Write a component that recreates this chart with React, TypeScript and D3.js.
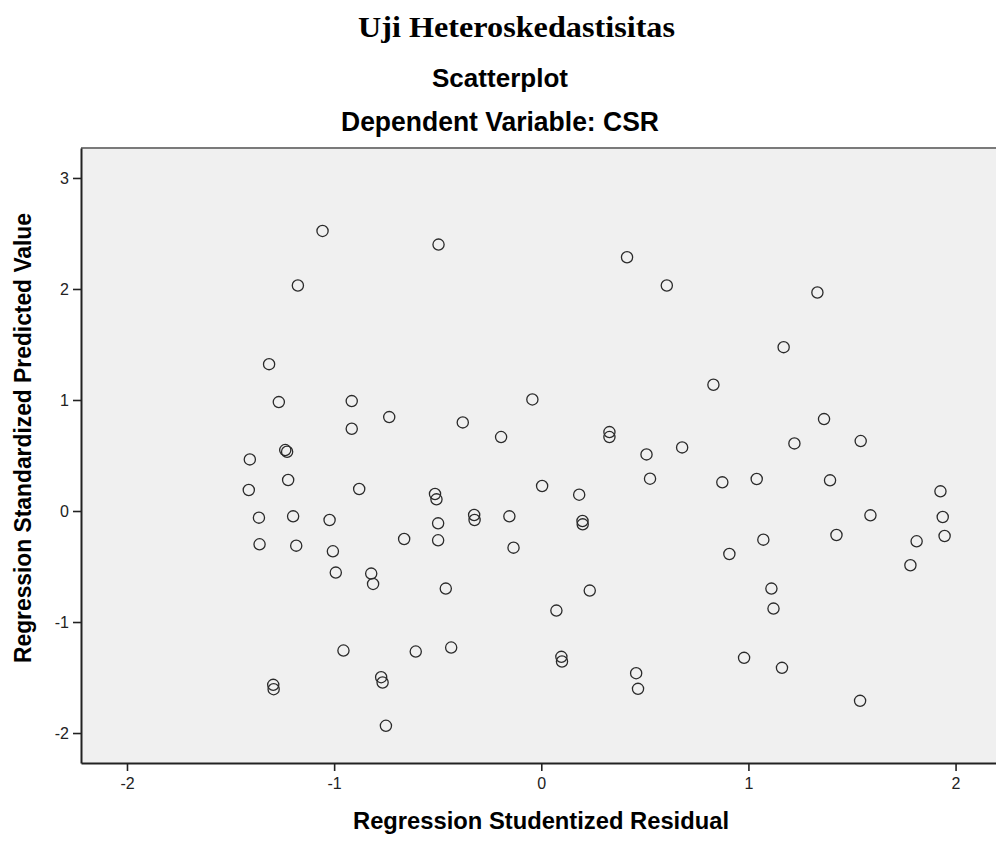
import * as d3 from 'd3'
import React, { useEffect, useRef } from 'react'

// Regression Studentized Residual (x) and Regression Standardized Predicted Value (y)
const residual = [
  -1.056, -1.175, -1.314, -1.267, -0.915, -0.915, -0.734, -1.236, -1.227, -1.407,
  -1.222, -1.412, -0.879, -1.363, -1.198, -1.022, -1.36, -1.183, -1.006, -0.992,
  -0.662, -0.821, -0.812, -0.955, -1.294, -1.292, -0.773, -0.766, -0.75, -0.496,
  0.414, 0.606, 0.831, -0.379, -0.194, -0.043, 0.329, 0.329, 0.508, 0.68,
  0.525, 0.874, 0.004, 0.183, -0.513, -0.506, -0.498, -0.324, -0.322, -0.154,
  0.199, 0.2, -0.498, -0.134, -0.461, 0.234, 0.073, -0.606, -0.435, 0.097,
  0.1, 0.458, 0.467, 1.333, 1.17, 1.365, 1.222, 1.542, 1.04, 1.394,
  1.927, 1.589, 1.938, 1.947, 1.072, 1.425, 0.908, 1.812, 1.782, 1.111,
  1.121, 0.979, 1.162, 1.539
]
const predicted = [
  2.523, 2.031, 1.323, 0.981, 0.99, 0.741, 0.846, 0.549, 0.534, 0.465,
  0.279, 0.189, 0.198, -0.06, -0.048, -0.081, -0.3, -0.312, -0.363, -0.555,
  -0.252, -0.564, -0.657, -1.257, -1.566, -1.605, -1.497, -1.545, -1.935, 2.4,
  2.286, 2.031, 1.137, 0.798, 0.666, 1.005, 0.711, 0.666, 0.51, 0.573,
  0.291, 0.258, 0.225, 0.147, 0.153, 0.105, -0.111, -0.036, -0.081, -0.048,
  -0.09, -0.12, -0.264, -0.33, -0.699, -0.717, -0.897, -1.266, -1.23, -1.314,
  -1.356, -1.461, -1.602, 1.968, 1.476, 0.828, 0.609, 0.63, 0.288, 0.276,
  0.177, -0.039, -0.054, -0.225, -0.258, -0.216, -0.387, -0.273, -0.489, -0.699,
  -0.879, -1.323, -1.413, -1.71
]
const xTicks = [-2, -1, 0, 1, 2]
const yTicks = [-2, -1, 0, 1, 2, 3]

export default function App() {
  const ref = useRef(null)

  useEffect(() => {
    const svg = d3.select(ref.current)
    svg.selectAll('*').remove()

    const left = 81
    const top = 148
    const bottom = 763
    const right = 997

    const x = d3.scaleLinear().domain([-2.222, 2.2]).range([left, right])
    const y = d3.scaleLinear().domain([-2.27, 3.27]).range([bottom, top])

    //plot background
    svg
      .append('rect')
      .attr('x', left)
      .attr('y', top)
      .attr('width', right - left)
      .attr('height', bottom - top)
      .attr('fill', '#f0f0f0')

    //top border
    svg
      .append('line')
      .attr('x1', left)
      .attr('x2', right)
      .attr('y1', top)
      .attr('y2', top)
      .attr('stroke', '#7a7a7a')
      .attr('stroke-width', 2)

    //axes
    const fmt = (d) => String(d)
    const xAxis = svg
      .append('g')
      .attr('transform', `translate(0,${bottom})`)
      .call(
        d3.axisBottom(x).tickValues(xTicks).tickFormat(fmt).tickSize(8).tickPadding(7).tickSizeOuter(0)
      )
    const yAxis = svg
      .append('g')
      .attr('transform', `translate(${left},0)`)
      .call(
        d3.axisLeft(y).tickValues(yTicks).tickFormat(fmt).tickSize(8).tickPadding(4).tickSizeOuter(0)
      )

    for (const g of [xAxis, yAxis]) {
      g.select('.domain').attr('stroke', '#222').attr('stroke-width', 2)
      g.selectAll('.tick line').attr('stroke', '#222').attr('stroke-width', 1.6)
      g.selectAll('.tick text')
        .attr('fill', '#222')
        .attr('font-family', 'Liberation Sans, Arial, sans-serif')
        .attr('font-size', 16)
    }

    //points
    svg
      .append('g')
      .selectAll('circle')
      .data(residual.map((r, i) => [r, predicted[i]]))
      .join('circle')
      .attr('cx', (d) => x(d[0]))
      .attr('cy', (d) => y(d[1]))
      .attr('r', 5.6)
      .attr('fill', 'none')
      .attr('stroke', '#2a2a2a')
      .attr('stroke-width', 1.3)

    //titles
    svg
      .append('text')
      .attr('x', 516.5)
      .attr('y', 37)
      .attr('text-anchor', 'middle')
      .attr('font-family', 'Liberation Serif, Times New Roman, serif')
      .attr('font-weight', 'bold')
      .attr('font-size', 29)
      .attr('textLength', 317)
      .attr('lengthAdjust', 'spacingAndGlyphs')
      .text('Uji Heteroskedastisitas')

    svg
      .append('text')
      .attr('x', 500)
      .attr('y', 87)
      .attr('text-anchor', 'middle')
      .attr('font-family', 'Liberation Sans, Arial, sans-serif')
      .attr('font-weight', 'bold')
      .attr('font-size', 26)
      .attr('textLength', 136)
      .attr('lengthAdjust', 'spacingAndGlyphs')
      .text('Scatterplot')

    svg
      .append('text')
      .attr('x', 500)
      .attr('y', 131)
      .attr('text-anchor', 'middle')
      .attr('font-family', 'Liberation Sans, Arial, sans-serif')
      .attr('font-weight', 'bold')
      .attr('font-size', 27)
      .attr('textLength', 318)
      .attr('lengthAdjust', 'spacingAndGlyphs')
      .text('Dependent Variable: CSR')

    svg
      .append('text')
      .attr('x', 541)
      .attr('y', 829)
      .attr('text-anchor', 'middle')
      .attr('font-family', 'Liberation Sans, Arial, sans-serif')
      .attr('font-weight', 'bold')
      .attr('font-size', 23)
      .attr('textLength', 376)
      .attr('lengthAdjust', 'spacingAndGlyphs')
      .text('Regression Studentized Residual')

    svg
      .append('text')
      .attr('transform', 'translate(31,438) rotate(-90)')
      .attr('text-anchor', 'middle')
      .attr('font-family', 'Liberation Sans, Arial, sans-serif')
      .attr('font-weight', 'bold')
      .attr('font-size', 23)
      .attr('textLength', 450)
      .attr('lengthAdjust', 'spacingAndGlyphs')
      .text('Regression Standardized Predicted Value')
  }, [])

  return (
    <svg
      ref={ref}
      width="996"
      height="846"
      style={{ position: 'absolute', left: 0, top: 0, background: '#fff' }}
    />
  )
}
